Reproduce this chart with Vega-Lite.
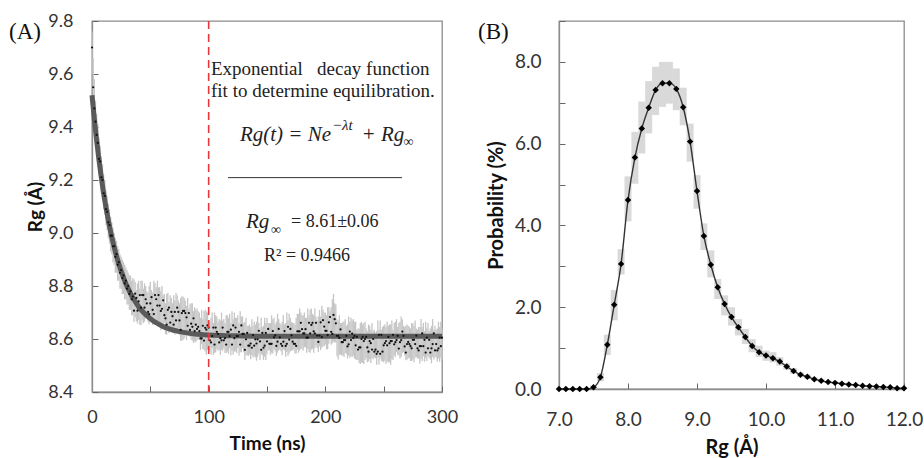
{
"$schema":"https://vega.github.io/schema/vega-lite/v6.json",
"background":"white",
"padding":{"left":8,"top":11,"right":2,"bottom":2},
"bounds":"flush",
"spacing":117,
"datasets":{
"rg":[
{"t":0,"r":9.70,"lo":9.60,"hi":9.76},{"t":1,"r":9.55,"lo":9.48,"hi":9.66},{"t":2,"r":9.47,"lo":9.40,"hi":9.58},{"t":3,"r":9.42,"lo":9.36,"hi":9.50},{"t":4,"r":9.37,"lo":9.31,"hi":9.45},{"t":5,"r":9.34,"lo":9.27,"hi":9.41},{"t":6,"r":9.28,"lo":9.22,"hi":9.36},{"t":7,"r":9.27,"lo":9.20,"hi":9.33},{"t":8,"r":9.21,"lo":9.15,"hi":9.29},{"t":9,"r":9.20,"lo":9.13,"hi":9.26},
{"t":10,"r":9.15,"lo":9.09,"hi":9.22},{"t":11,"r":9.14,"lo":9.07,"hi":9.20},{"t":12,"r":9.09,"lo":9.03,"hi":9.16},{"t":13,"r":9.08,"lo":9.01,"hi":9.14},{"t":14,"r":9.04,"lo":8.98,"hi":9.11},{"t":15,"r":9.03,"lo":8.96,"hi":9.09},{"t":16,"r":8.99,"lo":8.93,"hi":9.06},{"t":17,"r":8.99,"lo":8.92,"hi":9.04},{"t":18,"r":8.95,"lo":8.89,"hi":9.02},{"t":19,"r":8.95,"lo":8.88,"hi":9.00},
{"t":20,"r":8.91,"lo":8.85,"hi":8.98},{"t":21,"r":8.92,"lo":8.85,"hi":8.97},{"t":22,"r":8.88,"lo":8.82,"hi":8.95},{"t":23,"r":8.89,"lo":8.82,"hi":8.94},{"t":24,"r":8.85,"lo":8.79,"hi":8.92},{"t":25,"r":8.86,"lo":8.79,"hi":8.91},{"t":26,"r":8.83,"lo":8.77,"hi":8.90},{"t":27,"r":8.84,"lo":8.77,"hi":8.89},{"t":28,"r":8.81,"lo":8.75,"hi":8.88},{"t":29,"r":8.82,"lo":8.75,"hi":8.87},
{"t":30,"r":8.79,"lo":8.73,"hi":8.86},{"t":31,"r":8.80,"lo":8.73,"hi":8.85},{"t":32,"r":8.77,"lo":8.71,"hi":8.84},{"t":33,"r":8.78,"lo":8.71,"hi":8.84},{"t":34,"r":8.75,"lo":8.69,"hi":8.82},{"t":35,"r":8.76,"lo":8.69,"hi":8.83},
{"t":36,"r":8.707,"lo":8.664,"hi":8.825},{"t":37,"r":8.771,"lo":8.682,"hi":8.815},{"t":38,"r":8.755,"lo":8.667,"hi":8.785},{"t":39,"r":8.707,"lo":8.658,"hi":8.81},
{"t":40,"r":8.742,"lo":8.671,"hi":8.82},{"t":41,"r":8.766,"lo":8.653,"hi":8.79},{"t":42,"r":8.718,"lo":8.653,"hi":8.82},{"t":43,"r":8.766,"lo":8.671,"hi":8.82},{"t":44,"r":8.766,"lo":8.659,"hi":8.79},{"t":45,"r":8.718,"lo":8.665,"hi":8.81},{"t":46,"r":8.75,"lo":8.677,"hi":8.80},{"t":47,"r":8.734,"lo":8.68,"hi":8.78},{"t":48,"r":8.702,"lo":8.665,"hi":8.775},{"t":49,"r":8.694,"lo":8.656,"hi":8.80},
{"t":50,"r":8.734,"lo":8.674,"hi":8.815},{"t":51,"r":8.758,"lo":8.68,"hi":8.785},{"t":52,"r":8.71,"lo":8.653,"hi":8.775},{"t":53,"r":8.694,"lo":8.659,"hi":8.82},{"t":54,"r":8.766,"lo":8.668,"hi":8.81},{"t":55,"r":8.75,"lo":8.653,"hi":8.795},{"t":56,"r":8.726,"lo":8.668,"hi":8.82},{"t":57,"r":8.766,"lo":8.668,"hi":8.795},{"t":58,"r":8.726,"lo":8.665,"hi":8.795},{"t":59,"r":8.706,"lo":8.633,"hi":8.78},
{"t":60,"r":8.714,"lo":8.654,"hi":8.80},{"t":61,"r":8.746,"lo":8.651,"hi":8.765},{"t":62,"r":8.69,"lo":8.66,"hi":8.77},{"t":63,"r":8.678,"lo":8.619,"hi":8.735},{"t":64,"r":8.654,"lo":8.616,"hi":8.77},{"t":65,"r":8.71,"lo":8.637,"hi":8.775},{"t":66,"r":8.718,"lo":8.622,"hi":8.74},{"t":67,"r":8.662,"lo":8.628,"hi":8.765},{"t":68,"r":8.702,"lo":8.64,"hi":8.755},{"t":69,"r":8.686,"lo":8.622,"hi":8.735},
{"t":70,"r":8.654,"lo":8.634,"hi":8.765},{"t":71,"r":8.702,"lo":8.616,"hi":8.745},{"t":72,"r":8.67,"lo":8.622,"hi":8.775},{"t":73,"r":8.718,"lo":8.634,"hi":8.765},{"t":74,"r":8.702,"lo":8.64,"hi":8.745},{"t":75,"r":8.67,"lo":8.616,"hi":8.735},{"t":76,"r":8.634,"lo":8.593,"hi":8.755},{"t":77,"r":8.698,"lo":8.593,"hi":8.76},{"t":78,"r":8.706,"lo":8.596,"hi":8.76},{"t":79,"r":8.706,"lo":8.602,"hi":8.755},
{"t":80,"r":8.698,"lo":8.614,"hi":8.745},{"t":81,"r":8.682,"lo":8.596,"hi":8.725},{"t":82,"r":8.65,"lo":8.62,"hi":8.755},{"t":83,"r":8.698,"lo":8.611,"hi":8.715},{"t":84,"r":8.634,"lo":8.608,"hi":8.73},{"t":85,"r":8.658,"lo":8.596,"hi":8.735},{"t":86,"r":8.646,"lo":8.594,"hi":8.735},{"t":87,"r":8.678,"lo":8.585,"hi":8.705},{"t":88,"r":8.63,"lo":8.591,"hi":8.72},{"t":89,"r":8.654,"lo":8.588,"hi":8.71},
{"t":90,"r":8.638,"lo":8.594,"hi":8.715},{"t":91,"r":8.646,"lo":8.597,"hi":8.705},{"t":92,"r":8.63,"lo":8.597,"hi":8.70},{"t":93,"r":8.602,"lo":8.559,"hi":8.68},{"t":94,"r":8.602,"lo":8.58,"hi":8.71},{"t":95,"r":8.65,"lo":8.562,"hi":8.675},{"t":96,"r":8.594,"lo":8.559,"hi":8.705},{"t":97,"r":8.642,"lo":8.553,"hi":8.71},{"t":98,"r":8.635,"lo":8.541,"hi":8.705},{"t":99,"r":8.651,"lo":8.559,"hi":8.70},
{"t":100,"r":8.643,"lo":8.562,"hi":8.67},{"t":101,"r":8.595,"lo":8.553,"hi":8.665},{"t":102,"r":8.587,"lo":8.541,"hi":8.68},{"t":103,"r":8.611,"lo":8.565,"hi":8.70},{"t":104,"r":8.643,"lo":8.541,"hi":8.66},{"t":105,"r":8.579,"lo":8.547,"hi":8.70},{"t":106,"r":8.643,"lo":8.55,"hi":8.69},{"t":107,"r":8.627,"lo":8.562,"hi":8.685},{"t":108,"r":8.619,"lo":8.556,"hi":8.665},{"t":109,"r":8.587,"lo":8.559,"hi":8.675},
{"t":110,"r":8.603,"lo":8.541,"hi":8.67},{"t":111,"r":8.595,"lo":8.559,"hi":8.70},{"t":112,"r":8.643,"lo":8.556,"hi":8.67},{"t":113,"r":8.595,"lo":8.565,"hi":8.675},{"t":114,"r":8.603,"lo":8.547,"hi":8.66},{"t":115,"r":8.579,"lo":8.547,"hi":8.69},{"t":116,"r":8.627,"lo":8.553,"hi":8.69},{"t":117,"r":8.627,"lo":8.544,"hi":8.68},{"t":118,"r":8.611,"lo":8.565,"hi":8.695},{"t":119,"r":8.635,"lo":8.538,"hi":8.66},
{"t":120,"r":8.579,"lo":8.556,"hi":8.705},{"t":121,"r":8.651,"lo":8.541,"hi":8.675},{"t":122,"r":8.603,"lo":8.553,"hi":8.70},{"t":123,"r":8.643,"lo":8.553,"hi":8.68},{"t":124,"r":8.611,"lo":8.547,"hi":8.68},{"t":125,"r":8.611,"lo":8.565,"hi":8.69},{"t":126,"r":8.627,"lo":8.538,"hi":8.66},{"t":127,"r":8.579,"lo":8.55,"hi":8.705},{"t":128,"r":8.651,"lo":8.55,"hi":8.685},{"t":129,"r":8.619,"lo":8.565,"hi":8.685},
{"t":130,"r":8.619,"lo":8.55,"hi":8.66},{"t":131,"r":8.559,"lo":8.521,"hi":8.665},{"t":132,"r":8.599,"lo":8.539,"hi":8.68},{"t":133,"r":8.623,"lo":8.539,"hi":8.65},{"t":134,"r":8.575,"lo":8.536,"hi":8.65},{"t":135,"r":8.575,"lo":8.542,"hi":8.655},{"t":136,"r":8.583,"lo":8.524,"hi":8.645},{"t":137,"r":8.567,"lo":8.539,"hi":8.675},{"t":138,"r":8.615,"lo":8.53,"hi":8.65},{"t":139,"r":8.575,"lo":8.536,"hi":8.665},
{"t":140,"r":8.599,"lo":8.53,"hi":8.655},{"t":141,"r":8.583,"lo":8.518,"hi":8.665},{"t":142,"r":8.599,"lo":8.533,"hi":8.685},{"t":143,"r":8.631,"lo":8.545,"hi":8.66},{"t":144,"r":8.591,"lo":8.521,"hi":8.64},{"t":145,"r":8.559,"lo":8.542,"hi":8.68},{"t":146,"r":8.623,"lo":8.539,"hi":8.645},{"t":147,"r":8.567,"lo":8.521,"hi":8.65},{"t":148,"r":8.575,"lo":8.533,"hi":8.68},{"t":149,"r":8.623,"lo":8.521,"hi":8.66},
{"t":150,"r":8.591,"lo":8.542,"hi":8.68},{"t":151,"r":8.638,"lo":8.557,"hi":8.66},{"t":152,"r":8.582,"lo":8.557,"hi":8.66},{"t":153,"r":8.582,"lo":8.539,"hi":8.66},{"t":154,"r":8.582,"lo":8.548,"hi":8.69},{"t":155,"r":8.63,"lo":8.545,"hi":8.675},{"t":156,"r":8.606,"lo":8.56,"hi":8.68},{"t":157,"r":8.614,"lo":8.554,"hi":8.655},{"t":158,"r":8.574,"lo":8.536,"hi":8.665},{"t":159,"r":8.59,"lo":8.548,"hi":8.695},
{"t":160,"r":8.638,"lo":8.557,"hi":8.675},{"t":161,"r":8.606,"lo":8.56,"hi":8.66},{"t":162,"r":8.582,"lo":8.554,"hi":8.655},{"t":163,"r":8.574,"lo":8.539,"hi":8.665},{"t":164,"r":8.59,"lo":8.56,"hi":8.69},{"t":165,"r":8.63,"lo":8.557,"hi":8.655},{"t":166,"r":8.574,"lo":8.533,"hi":8.66},{"t":167,"r":8.582,"lo":8.551,"hi":8.70},{"t":168,"r":8.646,"lo":8.536,"hi":8.67},{"t":169,"r":8.598,"lo":8.545,"hi":8.695},
{"t":170,"r":8.638,"lo":8.554,"hi":8.68},{"t":171,"r":8.614,"lo":8.557,"hi":8.665},{"t":172,"r":8.59,"lo":8.557,"hi":8.66},{"t":173,"r":8.582,"lo":8.56,"hi":8.66},{"t":174,"r":8.582,"lo":8.545,"hi":8.655},{"t":175,"r":8.574,"lo":8.545,"hi":8.68},{"t":176,"r":8.629,"lo":8.56,"hi":8.695},{"t":177,"r":8.629,"lo":8.548,"hi":8.695},{"t":178,"r":8.629,"lo":8.557,"hi":8.715},{"t":179,"r":8.661,"lo":8.563,"hi":8.70},
{"t":180,"r":8.637,"lo":8.563,"hi":8.69},{"t":181,"r":8.621,"lo":8.557,"hi":8.69},{"t":182,"r":8.621,"lo":8.569,"hi":8.70},{"t":183,"r":8.637,"lo":8.569,"hi":8.68},{"t":184,"r":8.605,"lo":8.548,"hi":8.68},{"t":185,"r":8.605,"lo":8.563,"hi":8.715},{"t":186,"r":8.661,"lo":8.551,"hi":8.69},{"t":187,"r":8.621,"lo":8.548,"hi":8.71},{"t":188,"r":8.653,"lo":8.56,"hi":8.715},{"t":189,"r":8.661,"lo":8.563,"hi":8.695},
{"t":190,"r":8.629,"lo":8.548,"hi":8.69},{"t":191,"r":8.621,"lo":8.566,"hi":8.715},{"t":192,"r":8.661,"lo":8.575,"hi":8.685},{"t":193,"r":8.613,"lo":8.566,"hi":8.67},{"t":194,"r":8.589,"lo":8.551,"hi":8.685},{"t":195,"r":8.613,"lo":8.572,"hi":8.71},{"t":196,"r":8.663,"lo":8.558,"hi":8.685},{"t":197,"r":8.607,"lo":8.567,"hi":8.725},{"t":198,"r":8.671,"lo":8.573,"hi":8.71},{"t":199,"r":8.647,"lo":8.573,"hi":8.70},
{"t":200,"r":8.631,"lo":8.579,"hi":8.70},{"t":201,"r":8.631,"lo":8.561,"hi":8.69},{"t":202,"r":8.615,"lo":8.561,"hi":8.72},{"t":203,"r":8.663,"lo":8.582,"hi":8.72},{"t":204,"r":8.683,"lo":8.605,"hi":8.705},{"t":205,"r":8.627,"lo":8.578,"hi":8.72},{"t":206,"r":8.619,"lo":8.584,"hi":8.75},{"t":207,"r":8.691,"lo":8.59,"hi":8.77},{"t":208,"r":8.675,"lo":8.587,"hi":8.735},{"t":209,"r":8.659,"lo":8.587,"hi":8.73},
{"t":210,"r":8.612,"lo":8.535,"hi":8.675},{"t":211,"r":8.612,"lo":8.523,"hi":8.67},{"t":212,"r":8.604,"lo":8.541,"hi":8.69},{"t":213,"r":8.636,"lo":8.541,"hi":8.66},{"t":214,"r":8.588,"lo":8.538,"hi":8.66},{"t":215,"r":8.588,"lo":8.538,"hi":8.665},{"t":216,"r":8.596,"lo":8.532,"hi":8.665},{"t":217,"r":8.596,"lo":8.547,"hi":8.675},{"t":218,"r":8.612,"lo":8.544,"hi":8.65},{"t":219,"r":8.572,"lo":8.526,"hi":8.655},
{"t":220,"r":8.58,"lo":8.538,"hi":8.685},{"t":221,"r":8.628,"lo":8.529,"hi":8.665},{"t":222,"r":8.596,"lo":8.535,"hi":8.68},{"t":223,"r":8.62,"lo":8.532,"hi":8.67},{"t":224,"r":8.604,"lo":8.538,"hi":8.675},{"t":225,"r":8.612,"lo":8.526,"hi":8.665},{"t":226,"r":8.576,"lo":8.524,"hi":8.665},{"t":227,"r":8.608,"lo":8.521,"hi":8.635},{"t":228,"r":8.56,"lo":8.521,"hi":8.64},{"t":229,"r":8.568,"lo":8.509,"hi":8.64},
{"t":230,"r":8.568,"lo":8.506,"hi":8.66},{"t":231,"r":8.60,"lo":8.512,"hi":8.665},{"t":232,"r":8.608,"lo":8.509,"hi":8.655},{"t":233,"r":8.592,"lo":8.506,"hi":8.66},{"t":234,"r":8.60,"lo":8.521,"hi":8.665},{"t":235,"r":8.608,"lo":8.527,"hi":8.64},{"t":236,"r":8.568,"lo":8.512,"hi":8.63},{"t":237,"r":8.552,"lo":8.515,"hi":8.655},{"t":238,"r":8.592,"lo":8.524,"hi":8.65},{"t":239,"r":8.584,"lo":8.509,"hi":8.635},
{"t":240,"r":8.56,"lo":8.527,"hi":8.66},{"t":241,"r":8.60,"lo":8.524,"hi":8.63},{"t":242,"r":8.552,"lo":8.53,"hi":8.635},{"t":243,"r":8.56,"lo":8.527,"hi":8.625},{"t":244,"r":8.544,"lo":8.503,"hi":8.63},{"t":245,"r":8.552,"lo":8.53,"hi":8.67},{"t":246,"r":8.616,"lo":8.503,"hi":8.635},{"t":247,"r":8.544,"lo":8.527,"hi":8.67},{"t":248,"r":8.616,"lo":8.518,"hi":8.635},{"t":249,"r":8.552,"lo":8.515,"hi":8.645},
{"t":250,"r":8.576,"lo":8.512,"hi":8.65},{"t":251,"r":8.584,"lo":8.518,"hi":8.655},{"t":252,"r":8.592,"lo":8.506,"hi":8.645},{"t":253,"r":8.576,"lo":8.515,"hi":8.665},{"t":254,"r":8.608,"lo":8.512,"hi":8.65},{"t":255,"r":8.584,"lo":8.512,"hi":8.655},{"t":256,"r":8.592,"lo":8.503,"hi":8.655},{"t":257,"r":8.592,"lo":8.524,"hi":8.67},{"t":258,"r":8.616,"lo":8.521,"hi":8.635},{"t":259,"r":8.58,"lo":8.538,"hi":8.66},
{"t":260,"r":8.588,"lo":8.532,"hi":8.665},{"t":261,"r":8.596,"lo":8.55,"hi":8.675},{"t":262,"r":8.612,"lo":8.541,"hi":8.645},{"t":263,"r":8.564,"lo":8.538,"hi":8.66},{"t":264,"r":8.588,"lo":8.526,"hi":8.665},{"t":265,"r":8.596,"lo":8.532,"hi":8.685},{"t":266,"r":8.628,"lo":8.547,"hi":8.675},{"t":267,"r":8.612,"lo":8.55,"hi":8.65},{"t":268,"r":8.572,"lo":8.538,"hi":8.645},{"t":269,"r":8.549,"lo":8.52,"hi":8.65},
{"t":270,"r":8.581,"lo":8.523,"hi":8.655},{"t":271,"r":8.589,"lo":8.526,"hi":8.65},{"t":272,"r":8.581,"lo":8.529,"hi":8.645},{"t":273,"r":8.573,"lo":8.517,"hi":8.64},{"t":274,"r":8.565,"lo":8.517,"hi":8.66},{"t":275,"r":8.597,"lo":8.523,"hi":8.66},{"t":276,"r":8.597,"lo":8.511,"hi":8.65},{"t":277,"r":8.581,"lo":8.529,"hi":8.67},{"t":278,"r":8.613,"lo":8.532,"hi":8.64},{"t":279,"r":8.565,"lo":8.526,"hi":8.635},
{"t":280,"r":8.557,"lo":8.526,"hi":8.645},{"t":281,"r":8.573,"lo":8.508,"hi":8.645},{"t":282,"r":8.573,"lo":8.526,"hi":8.675},{"t":283,"r":8.621,"lo":8.517,"hi":8.645},{"t":284,"r":8.573,"lo":8.535,"hi":8.66},{"t":285,"r":8.597,"lo":8.514,"hi":8.63},{"t":286,"r":8.549,"lo":8.529,"hi":8.665},{"t":287,"r":8.605,"lo":8.517,"hi":8.64},{"t":288,"r":8.565,"lo":8.535,"hi":8.66},{"t":289,"r":8.597,"lo":8.529,"hi":8.63},
{"t":290,"r":8.549,"lo":8.523,"hi":8.64},{"t":291,"r":8.565,"lo":8.508,"hi":8.65},{"t":292,"r":8.581,"lo":8.532,"hi":8.675},{"t":293,"r":8.621,"lo":8.523,"hi":8.635},{"t":294,"r":8.557,"lo":8.532,"hi":8.65},{"t":295,"r":8.581,"lo":8.529,"hi":8.635},{"t":296,"r":8.557,"lo":8.514,"hi":8.64},{"t":297,"r":8.565,"lo":8.526,"hi":8.665},{"t":298,"r":8.605,"lo":8.514,"hi":8.645},{"t":299,"r":8.573,"lo":8.529,"hi":8.665},
{"t":300,"r":8.605,"lo":8.523,"hi":8.64}
],
"fit":[
{"t":0,"f":9.52},{"t":2,"f":9.43},{"t":4,"f":9.348},{"t":6,"f":9.275},{"t":8,"f":9.209},{"t":10,"f":9.149},{"t":12,"f":9.096},{"t":14,"f":9.048},{"t":16,"f":9.004},{"t":18,"f":8.965},{"t":20,"f":8.93},{"t":22,"f":8.898},{"t":24,"f":8.869},{"t":26,"f":8.844},{"t":28,"f":8.82},{"t":30,"f":8.799},{"t":32,"f":8.781},{"t":34,"f":8.764},{"t":36,"f":8.748},{"t":38,"f":8.735},{"t":40,"f":8.722},{"t":44,"f":8.701},{"t":48,"f":8.684},{"t":52,"f":8.67},{"t":56,"f":8.659},{"t":60,"f":8.649},{"t":65,"f":8.64},{"t":70,"f":8.633},{"t":75,"f":8.628},{"t":80,"f":8.624},{"t":90,"f":8.618},{"t":100,"f":8.615},{"t":120,"f":8.612},{"t":150,"f":8.61},{"t":200,"f":8.61},{"t":250,"f":8.61},{"t":300,"f":8.61}
],
"prob":[
{"x":7.0,"p":0,"lo":0,"hi":0},{"x":7.1,"p":0,"lo":0,"hi":0},{"x":7.2,"p":0,"lo":0,"hi":0},{"x":7.3,"p":0,"lo":0,"hi":0},{"x":7.4,"p":0,"lo":0,"hi":0},
{"x":7.5,"p":0.04,"lo":0.01,"hi":0.07},{"x":7.6,"p":0.29,"lo":0.19,"hi":0.39},{"x":7.7,"p":1.08,"lo":0.83,"hi":1.33},{"x":7.8,"p":2.06,"lo":1.68,"hi":2.42},{"x":7.9,"p":3.06,"lo":2.8,"hi":3.42},
{"x":8.0,"p":4.62,"lo":4.1,"hi":5.2},{"x":8.1,"p":5.66,"lo":5.02,"hi":6.29},{"x":8.2,"p":6.37,"lo":5.76,"hi":7.03},{"x":8.3,"p":6.88,"lo":6.25,"hi":7.53},{"x":8.4,"p":7.31,"lo":6.7,"hi":7.88},
{"x":8.5,"p":7.48,"lo":6.9,"hi":8.0},{"x":8.6,"p":7.48,"lo":6.98,"hi":8.0},{"x":8.7,"p":7.34,"lo":6.82,"hi":7.84},{"x":8.8,"p":6.89,"lo":6.45,"hi":7.37},{"x":8.9,"p":6.05,"lo":5.56,"hi":6.49},
{"x":9.0,"p":4.84,"lo":4.41,"hi":5.23},{"x":9.1,"p":3.74,"lo":3.4,"hi":4.05},{"x":9.2,"p":3.04,"lo":2.73,"hi":3.39},{"x":9.3,"p":2.49,"lo":2.2,"hi":2.69},{"x":9.4,"p":2.08,"lo":1.8,"hi":2.29},
{"x":9.5,"p":1.76,"lo":1.55,"hi":2.0},{"x":9.6,"p":1.51,"lo":1.31,"hi":1.71},{"x":9.7,"p":1.27,"lo":1.1,"hi":1.47},{"x":9.8,"p":1.05,"lo":0.9,"hi":1.22},{"x":9.9,"p":0.9,"lo":0.78,"hi":1.06},
{"x":10.0,"p":0.82,"lo":0.69,"hi":0.94},{"x":10.1,"p":0.75,"lo":0.65,"hi":0.9},{"x":10.2,"p":0.67,"lo":0.57,"hi":0.78},{"x":10.3,"p":0.55,"lo":0.47,"hi":0.63},{"x":10.4,"p":0.44,"lo":0.37,"hi":0.51},
{"x":10.5,"p":0.35,"lo":0.29,"hi":0.41},{"x":10.6,"p":0.3,"lo":0.25,"hi":0.35},{"x":10.7,"p":0.24,"lo":0.2,"hi":0.28},{"x":10.8,"p":0.2,"lo":0.16,"hi":0.24},{"x":10.9,"p":0.17,"lo":0.14,"hi":0.2},
{"x":11.0,"p":0.15,"lo":0.12,"hi":0.18},{"x":11.1,"p":0.13,"lo":0.1,"hi":0.16},{"x":11.2,"p":0.11,"lo":0.08,"hi":0.14},{"x":11.3,"p":0.1,"lo":0.08,"hi":0.12},{"x":11.4,"p":0.08,"lo":0.06,"hi":0.1},
{"x":11.5,"p":0.07,"lo":0.05,"hi":0.09},{"x":11.6,"p":0.06,"lo":0.04,"hi":0.08},{"x":11.7,"p":0.05,"lo":0.03,"hi":0.07},{"x":11.8,"p":0.04,"lo":0.02,"hi":0.06},{"x":11.9,"p":0.02,"lo":0.01,"hi":0.03},{"x":12.0,"p":0.02,"lo":0.01,"hi":0.03}
]
},
"hconcat":[
{
"width":350,"height":371,
"layer":[
{"data":{"name":"rg"},"mark":{"type":"rule","color":"#c6c6c6","strokeWidth":1.3},
 "encoding":{
  "x":{"field":"t","type":"quantitative","title":"Time (ns)","scale":{"domain":[0,300],"nice":false},
       "axis":{"values":[0,25,50,75,100,125,150,175,200,225,250,275,300],"labelExpr":"datum.value % 100 == 0 ? format(datum.value,'d') : ''","labelFontSize":18,"titleFontSize":19,"labelPadding":22,"titlePadding":8}},
  "y":{"field":"lo","type":"quantitative","title":"Rg (Å)","scale":{"domain":[8.4,9.8],"nice":false,"zero":false},
       "axis":{"values":[8.4,8.45,8.5,8.55,8.6,8.65,8.7,8.75,8.8,8.85,8.9,8.95,9.0,9.05,9.1,9.15,9.2,9.25,9.3,9.35,9.4,9.45,9.5,9.55,9.6,9.65,9.7,9.75,9.8],"labelExpr":"abs(datum.value*5 - round(datum.value*5)) < 0.01 ? format(datum.value,'.1f') : ''","labelFontSize":18,"titleFontSize":19,"labelPadding":25,"titlePadding":2}},
  "y2":{"field":"hi"}}},
{"data":{"name":"fit"},"mark":{"type":"line","color":"#5a5a5a","strokeWidth":5,"interpolate":"monotone"},
 "encoding":{"x":{"field":"t","type":"quantitative","title":"Time (ns)"},"y":{"field":"f","type":"quantitative","title":"Rg (Å)"}}},
{"data":{"name":"rg"},"mark":{"type":"circle","color":"#111111","size":5,"opacity":1},
 "encoding":{"x":{"field":"t","type":"quantitative","title":"Time (ns)"},"y":{"field":"r","type":"quantitative","title":"Rg (Å)"}}},
{"data":{"values":[{}]},"mark":{"type":"rule","color":"#e8383c","strokeWidth":1.6,"strokeDash":[8,5]},
 "encoding":{"x":{"datum":100}}},
{"data":{"values":[{}]},"mark":{"type":"text","text":"Exponential\u00a0\u00a0\u00a0decay function","font":"Liberation Serif","fontSize":19,"align":"left","baseline":"middle","color":"#222"},
 "encoding":{"x":{"datum":102},"y":{"datum":9.617}}},
{"data":{"values":[{}]},"mark":{"type":"text","text":"fit to determine equilibration.","font":"Liberation Serif","fontSize":19,"align":"left","baseline":"middle","color":"#222"},
 "encoding":{"x":{"datum":102},"y":{"datum":9.535}}},
{"data":{"values":[{}]},"mark":{"type":"text","text":"Rg(t) = Ne","font":"Liberation Serif","fontStyle":"italic","fontSize":21,"align":"right","baseline":"middle","color":"#222"},
 "encoding":{"x":{"datum":204.9},"y":{"datum":9.368}}},
{"data":{"values":[{}]},"mark":{"type":"text","text":"−λt","font":"Liberation Serif","fontStyle":"italic","fontSize":15,"align":"left","baseline":"middle","color":"#222"},
 "encoding":{"x":{"datum":205.7},"y":{"datum":9.406}}},
{"data":{"values":[{}]},"mark":{"type":"text","text":"+ Rg","font":"Liberation Serif","fontStyle":"italic","fontSize":21,"align":"left","baseline":"middle","color":"#222"},
 "encoding":{"x":{"datum":231},"y":{"datum":9.368}}},
{"data":{"values":[{}]},"mark":{"type":"text","text":"∞","font":"Liberation Serif","fontSize":14,"align":"left","baseline":"middle","color":"#222"},
 "encoding":{"x":{"datum":267},"y":{"datum":9.345}}},
{"data":{"values":[{}]},"mark":{"type":"rule","color":"#333","strokeWidth":1},
 "encoding":{"x":{"datum":116.6},"x2":{"datum":265.7},"y":{"datum":9.209}}},
{"data":{"values":[{}]},"mark":{"type":"text","text":"Rg","font":"Liberation Serif","fontStyle":"italic","fontSize":21,"align":"left","baseline":"middle","color":"#222"},
 "encoding":{"x":{"datum":132},"y":{"datum":9.04}}},
{"data":{"values":[{}]},"mark":{"type":"text","text":"∞","font":"Liberation Serif","fontSize":14,"align":"left","baseline":"middle","color":"#222"},
 "encoding":{"x":{"datum":153.4},"y":{"datum":9.01}}},
{"data":{"values":[{}]},"mark":{"type":"text","text":"= 8.61±0.06","font":"Liberation Serif","fontSize":18,"align":"left","baseline":"middle","color":"#222"},
 "encoding":{"x":{"datum":170.6},"y":{"datum":9.04}}},
{"data":{"values":[{}]},"mark":{"type":"text","text":"R² = 0.9466","font":"Liberation Serif","fontSize":18,"align":"center","baseline":"middle","color":"#222"},
 "encoding":{"x":{"datum":184.3},"y":{"datum":8.915}}},
{"data":{"values":[{}]},"mark":{"type":"text","text":"(A)","font":"Liberation Serif","fontSize":23,"align":"left","baseline":"middle","color":"#111"},
 "encoding":{"x":{"datum":-71.1},"y":{"datum":9.757}}}
]
},
{
"width":345,"height":368,
"data":{"name":"prob"},
"layer":[
{"mark":{"type":"rule","color":"#d9d9d9","strokeWidth":7},
 "encoding":{
  "x":{"field":"x","type":"quantitative","title":"Rg (Å)","scale":{"domain":[7,12],"nice":false,"zero":false},
       "axis":{"values":[7,7.25,7.5,7.75,8,8.25,8.5,8.75,9,9.25,9.5,9.75,10,10.25,10.5,10.75,11,11.25,11.5,11.75,12],"labelExpr":"abs(datum.value - round(datum.value)) < 0.01 ? format(datum.value,'.1f') : ''","labelFontSize":19,"titleFontSize":20,"labelPadding":27,"titlePadding":8}},
  "y":{"field":"lo","type":"quantitative","title":"Probability (%)","scale":{"domain":[0,9],"nice":false},
       "axis":{"values":[0,0.5,1,1.5,2,2.5,3,3.5,4,4.5,5,5.5,6,6.5,7,7.5,8,8.5,9],"labelExpr":"abs(datum.value/2 - round(datum.value/2)) < 0.01 ? format(datum.value,'.1f') : ''","labelFontSize":19,"titleFontSize":20,"labelPadding":24,"titlePadding":8}},
  "y2":{"field":"hi"}}},
{"mark":{"type":"line","color":"#333","strokeWidth":1.4,"interpolate":"monotone"},
 "encoding":{"x":{"field":"x","type":"quantitative","title":"Rg (Å)"},"y":{"field":"p","type":"quantitative","title":"Probability (%)"}}},
{"mark":{"type":"point","shape":"diamond","filled":true,"color":"#000","size":42,"opacity":1},
 "encoding":{"x":{"field":"x","type":"quantitative","title":"Rg (Å)"},"y":{"field":"p","type":"quantitative","title":"Probability (%)"}}},
{"data":{"values":[{}]},"mark":{"type":"text","text":"(B)","font":"Liberation Serif","fontSize":23,"align":"left","baseline":"middle","color":"#111"},
 "encoding":{"x":{"datum":5.826},"y":{"datum":8.743}}}
]
}
],
"config":{
 "view":{"stroke":"#8c8c8c","strokeWidth":1.3},
 "axis":{"grid":false,"domainColor":"#8c8c8c","domainWidth":1.3,"tickColor":"#666666","tickWidth":1,"tickSize":-6,"labelFont":"Lato","titleFont":"Lato","labelColor":"#333","titleColor":"#111","titleFontWeight":"bold","labelOverlap":false,"labelFlush":false,"labelBound":false}
}
}
